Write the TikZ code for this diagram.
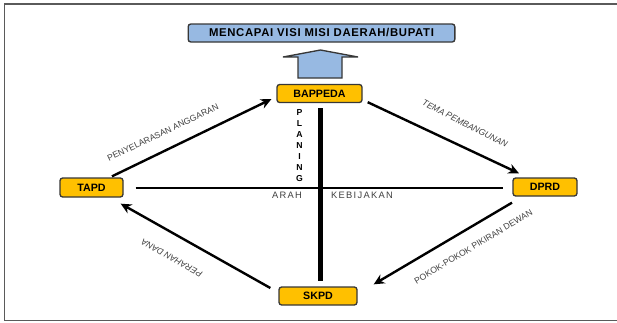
\documentclass[tikz,border=0pt]{standalone}
\usepackage{fontspec}
\setmainfont{Liberation Sans}
\newfontfamily\spacedfont[LetterSpace=14]{Liberation Sans}
\newfontfamily\headfont[LetterSpace=6]{Liberation Sans}
\usetikzlibrary{arrows.meta,calc}

\definecolor{boxgold}{RGB}{255,192,0}
\definecolor{boxblue}{RGB}{151,185,226}
\definecolor{edgegray}{RGB}{55,55,55}
\definecolor{labelgray}{RGB}{64,64,64}

\tikzset{every picture/.style={line width=0.75pt}}
\tikzset{
	unitbox/.style={draw=edgegray, fill=boxgold, rounded corners=2pt, line width=1pt, minimum height=13.5pt, inner sep=0pt, font=\fontsize{8}{9}\selectfont\bfseries},
	flow/.style={line width=1.8, draw=black, -{Stealth[length=8pt,width=7.5pt]}},
	flowlabel/.style={font=\fontsize{6.5}{7}\selectfont, text=labelgray, inner sep=0pt},
	axislabel/.style={font=\spacedfont\fontsize{7}{8}\selectfont, text=labelgray, inner sep=0pt},
}

\begin{document}
\begin{tikzpicture}[x=0.75pt,y=0.75pt,yscale=-1,xscale=1]
	\useasboundingbox (0,0) rectangle (617,322);

	%Straight Lines: frame
	\draw [draw={rgb, 255:red, 90; green, 90; blue, 90 }, line width=1.2]  (617,4) -- (4.5,4) -- (4.5,320.5) -- (617,320.5) ;

	%Shape: Rectangle
	\node [draw=edgegray, fill=boxblue, rounded corners=2pt, line width=1pt, minimum width=200pt, minimum height=13.5pt, inner sep=0pt, font=\headfont\fontsize{8.5}{9}\selectfont\bfseries] (visi) at (321.5,33) {MENCAPAI VISI MISI DAERAH/BUPATI};
	%Shape: Up Arrow
	\draw [draw=edgegray, fill=boxblue, line width=1]  (298,78) -- (298,57) -- (283,57) -- (320.5,50) -- (358,57) -- (342,57) -- (342,78) -- cycle ;

	%Shape: Rectangle
	\node [unitbox, minimum width=63.75pt] (bappeda) at (319.5,93.5) {BAPPEDA};
	%Shape: Rectangle
	\node [unitbox, minimum width=47.25pt, minimum height=14.25pt] (tapd) at (91.5,187.5) {TAPD};
	%Shape: Rectangle
	\node [unitbox, minimum width=48pt] (dprd) at (545,187) {DPRD};
	%Shape: Rectangle
	\node [unitbox, minimum width=58.5pt] (skpd) at (318,296) {SKPD};

	%Straight Lines
	\draw [line width=3.75]  ($(bappeda.south)+(1,5)$) -- ($(bappeda.south |- skpd.north)+(1,-5)$) ;
	%Straight Lines
	\draw [line width=2]  ($(tapd.east)+(12,0.5)$) -- ($(tapd.east -| dprd.west)+(-9,0.5)$) ;

	%Straight Lines
	\draw [flow]  ($(tapd.north)+(20.5,-1)$) -- ($(bappeda.south west)+(-5,-4)$) ;
	%Straight Lines
	\draw [flow]  ($(bappeda.south east)+(5,-1)$) -- ($(dprd.north)+(-26,-4)$) ;
	%Straight Lines
	\draw [flow]  ($(dprd.south)+(-33,6)$) -- ($(skpd.north east)+(16,-2)$) ;
	%Straight Lines
	\draw [flow]  ($(skpd.west)+(-8,-8)$) -- ($(tapd.south east)+(-3,6)$) ;

	% Text Node
	\node [font=\fontsize{6.5}{8.25}\selectfont\bfseries, align=center, inner sep=0pt] (planing) at (299.5,146) {P\\L\\A\\N\\I\\N\\G};
	% Text Node
	\node [axislabel] (arah) at (287,195) {ARAH};
	% Text Node
	\node [axislabel] (kebijakan) at (362,195) {KEBIJAKAN};
	% Text Node
	\node [flowlabel, rotate=25.4] (selaras) at (163,132.5) {PENYELARASAN ANGGARAN};
	% Text Node
	\node [flowlabel, font=\fontsize{6.5}{7}\selectfont\itshape, rotate=-27] (tema) at (465,123.7) {TEMA PEMBANGUNAN};
	% Text Node
	\node [flowlabel, rotate=31] (pokir) at (473.3,246.7) {POKOK-POKOK PIKIRAN DEWAN};
	% Text Node
	\node [flowlabel, font=\fontsize{6.5}{7}\selectfont\itshape, rotate=151] (perahan) at (171.7,258.3) {PERAHAN DANA};

\end{tikzpicture}
\end{document}
